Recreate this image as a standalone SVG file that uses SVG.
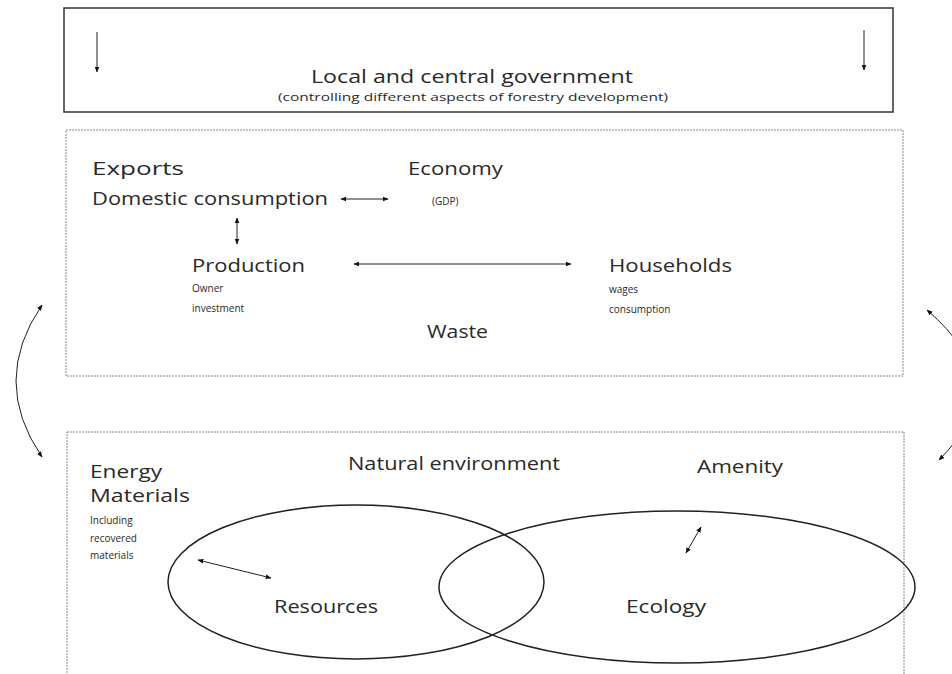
<svg xmlns="http://www.w3.org/2000/svg" width="952" height="674" viewBox="0 0 952 674">
<defs>
<marker id="ah" viewBox="0 0 10 10" refX="9" refY="5" markerWidth="6" markerHeight="6" orient="auto-start-reverse" markerUnits="userSpaceOnUse"><path d="M0,1 L10,5 L0,9 z" fill="#111"/></marker>
</defs>
<style>
text{font-family:"Open Sans","Liberation Sans",Arial,sans-serif;fill:#2a2a2a}
.b{font-size:18px}
.s{font-size:10px}
.dash{fill:none;stroke:#888;stroke-width:1;stroke-dasharray:2,1}
.arr{fill:none;stroke:#222;stroke-width:1;marker-end:url(#ah)}
.darr{fill:none;stroke:#222;stroke-width:1;marker-end:url(#ah);marker-start:url(#ah)}
.ell{fill:none;stroke:#222;stroke-width:1.5}
</style>
<rect width="952" height="674" fill="#fff"/>
<g id="government">
<rect x="64" y="8" width="829" height="104" fill="none" stroke="#333" stroke-width="1.5"/>
<text class="b" x="472" y="83" text-anchor="middle" textLength="322" lengthAdjust="spacingAndGlyphs">Local and central government</text>
<text class="s" x="473" y="101" text-anchor="middle" textLength="390" lengthAdjust="spacingAndGlyphs">(controlling different aspects of forestry development)</text>
</g>
<g id="economy-box">
<rect class="dash" x="66" y="130" width="837" height="246"/>
</g>
<g id="exports">
<text class="b" x="92" y="175" textLength="92" lengthAdjust="spacingAndGlyphs">Exports</text>
<text class="b" x="92" y="205" textLength="236" lengthAdjust="spacingAndGlyphs">Domestic consumption</text>
</g>
<g id="economy">
<text class="b" x="408" y="175" textLength="95" lengthAdjust="spacingAndGlyphs">Economy</text>
<text class="s" x="432" y="205">(GDP)</text>
</g>
<g id="production">
<text class="b" x="192" y="272" textLength="113" lengthAdjust="spacingAndGlyphs">Production</text>
<text class="s" x="192" y="292">Owner</text>
<text class="s" x="192" y="312">investment</text>
</g>
<g id="households">
<text class="b" x="609" y="272" textLength="123" lengthAdjust="spacingAndGlyphs">Households</text>
<text class="s" x="609" y="293">wages</text>
<text class="s" x="609" y="313">consumption</text>
</g>
<g id="waste">
<text class="b" x="427" y="338" textLength="61" lengthAdjust="spacingAndGlyphs">Waste</text>
</g>
<g id="environment-box">
<rect class="dash" x="67" y="432" width="837" height="260"/>
</g>
<g id="energy">
<text class="b" x="90" y="478" textLength="72" lengthAdjust="spacingAndGlyphs">Energy</text>
<text class="b" x="90" y="502" textLength="100" lengthAdjust="spacingAndGlyphs">Materials</text>
<text class="s" x="90" y="524">Including</text>
<text class="s" x="90" y="542">recovered</text>
<text class="s" x="90" y="559">materials</text>
</g>
<g id="natural-environment">
<text class="b" x="348" y="470" textLength="212" lengthAdjust="spacingAndGlyphs">Natural environment</text>
</g>
<g id="amenity">
<text class="b" x="697" y="473" textLength="86" lengthAdjust="spacingAndGlyphs">Amenity</text>
</g>
<g id="resources">
<ellipse class="ell" cx="356" cy="582" rx="188" ry="77"/>
<text class="b" x="274" y="613" textLength="104" lengthAdjust="spacingAndGlyphs">Resources</text>
</g>
<g id="ecology">
<ellipse class="ell" cx="677" cy="587" rx="238" ry="76"/>
<text class="b" x="626" y="613" textLength="80" lengthAdjust="spacingAndGlyphs">Ecology</text>
</g>
<g id="connectors">
<line class="arr" x1="97" y1="32" x2="97" y2="72"/>
<line class="arr" x1="864" y1="30" x2="864" y2="70"/>
<line class="darr" x1="341" y1="199" x2="388" y2="199"/>
<line class="darr" x1="237" y1="218" x2="237" y2="244"/>
<line class="darr" x1="354" y1="264" x2="571" y2="264"/>
<line class="darr" x1="198" y1="560" x2="271" y2="578"/>
<line class="darr" x1="701" y1="527" x2="686" y2="553"/>
<path class="darr" d="M42,305 Q-10,381 42,457"/>
<path class="darr" d="M927,310 Q1015,385 939,460"/>
</g>
</svg>
